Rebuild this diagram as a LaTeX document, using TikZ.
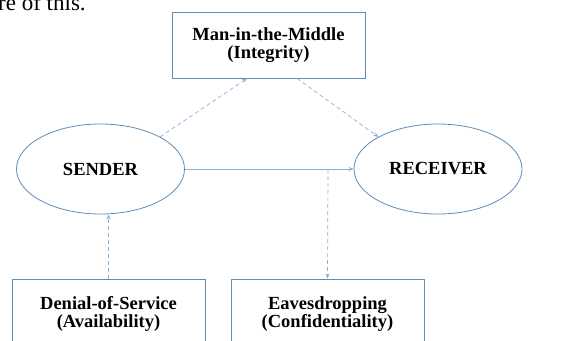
\documentclass[tikz,border=0pt]{standalone}
\usepackage{fontspec}
\setmainfont{Liberation Serif}
\usetikzlibrary{arrows.meta,shapes.geometric}
\definecolor{boxline}{RGB}{95,140,185}
\definecolor{conn}{RGB}{135,178,218}
\begin{document}
\begin{tikzpicture}[x=1pt,y=-1pt,
  lbl/.style={font=\fontsize{18.5}{18}\selectfont\bfseries,align=center},
  attack/.style={lbl,draw=boxline,line width=0.8pt,fill=white,rectangle,minimum width=193pt,inner sep=0pt},
  party/.style={lbl,draw=boxline,line width=0.8pt,fill=white,ellipse,minimum width=168pt,minimum height=90pt,inner sep=0pt},
  dconn/.style={draw=conn,line width=0.7pt,dash pattern=on 4pt off 3pt,-{Stealth[length=5pt,width=4pt,fill=conn]}},
  sconn/.style={draw=conn,line width=0.7pt,-{Stealth[length=5pt,width=4pt,fill=conn]}}]
\useasboundingbox (0,0) rectangle (569,340);
\node[anchor=base west,font=\fontsize{23}{24}\selectfont,inner sep=0pt] (frag) at (-2,10) {re of this.};
\node[attack,minimum height=66pt] (mitm) at (268.5,45) {Man-in-the-Middle\\(Integrity)};
\node[party] (sender) at (100.5,169) {SENDER};
\node[party] (receiver) at (438,169) {RECEIVER};
\node[attack,minimum height=70pt] (dos) at (108.5,314) {Denial-of-Service\\(Availability)};
\node[attack,minimum height=70pt] (eaves) at (327.5,314) {Eavesdropping\\(Confidentiality)};
\coordinate (tap) at (328,169);
\draw[sconn] (sender.east) -- (receiver.west);
\draw[dconn] (tap) -- (eaves.north);
\draw[dconn] (dos.north) -- (dos.north |- sender.south);
\draw[dconn] (sender.north east) -- ([xshift=-21.5pt]mitm.south);
\draw[dconn] ([xshift=28.5pt]mitm.south) -- (receiver.north west);
\end{tikzpicture}
\end{document}
